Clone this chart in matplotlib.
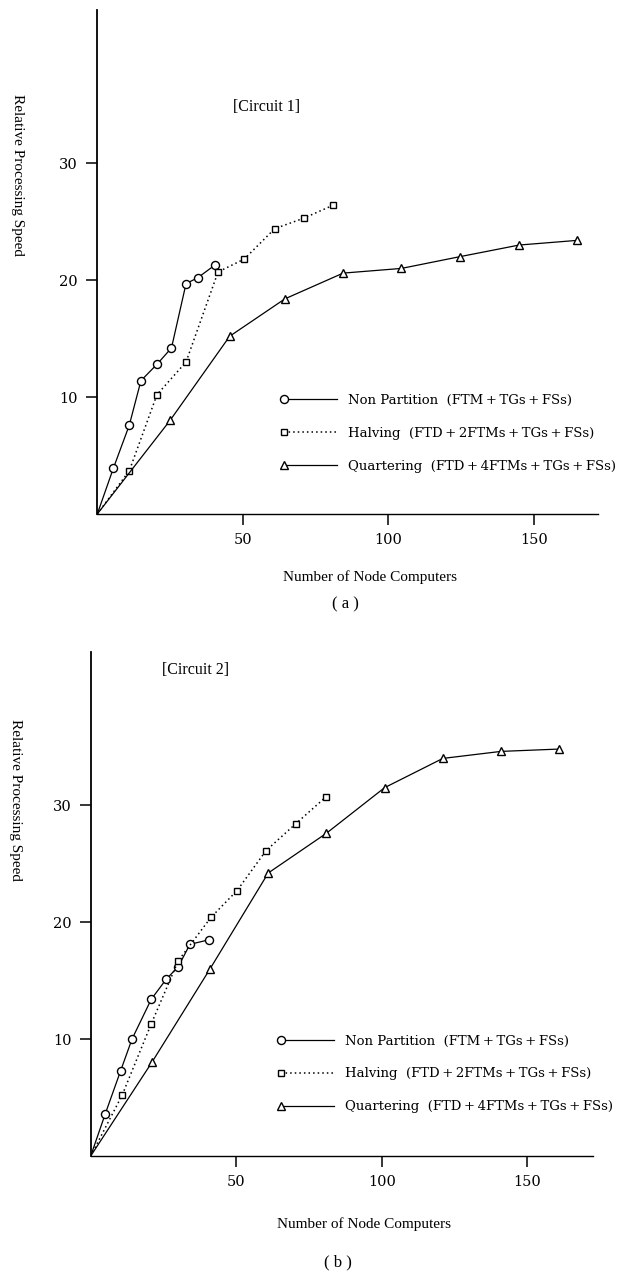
import matplotlib
matplotlib.use('Agg')
import matplotlib.pyplot as plt

# [Circuit 1]
c1_non_x = [5.5, 11, 15, 20.5, 25.5, 30.5, 34.5, 40.5]
c1_non_y = [3.9, 7.6, 11.4, 12.8, 14.2, 19.7, 20.2, 21.3]
c1_half_x = [11, 20.5, 30.5, 41.5, 50.5, 61, 71, 81]
c1_half_y = [3.7, 10.2, 13.0, 20.7, 21.8, 24.4, 25.3, 26.4]
c1_quar_x = [25, 45.5, 64.5, 84.5, 104.5, 124.5, 145, 165]
c1_quar_y = [8.0, 15.2, 18.4, 20.6, 21.0, 22.0, 23.0, 23.4]

# [Circuit 2]
c2_non_x = [5, 10.3, 14.2, 20.8, 25.9, 30.1, 34.1, 40.8]
c2_non_y = [3.6, 7.3, 10.0, 13.4, 15.1, 16.2, 18.1, 18.5]
c2_half_x = [10.8, 20.8, 30.1, 41.3, 50.3, 60.2, 70.4, 80.8]
c2_half_y = [5.2, 11.3, 16.7, 20.4, 22.7, 26.1, 28.4, 30.7]
c2_quar_x = [21, 41, 61, 81, 101, 121, 141, 161]
c2_quar_y = [8.0, 16.0, 24.2, 27.6, 31.5, 34.0, 34.6, 34.8]

p = '\u2009+\u2009'
labels = ['Non Partition  (FTM' + p + 'TGs' + p + 'FSs)',
          'Halving  (FTD' + p + '2FTMs' + p + 'TGs' + p + 'FSs)',
          'Quartering  (FTD' + p + '4FTMs' + p + 'TGs' + p + 'FSs)']
xticks = [50, 100, 150]
yticks = [10, 20, 30]

serif = ['DejaVu Serif']
times = ['Liberation Serif']

W, H = 618, 1280
fig = plt.figure(figsize=(W / 100, H / 100), dpi=100)
ax1 = fig.add_axes([97.3 / W, 1 - 514 / H, (598 - 97.3) / W, 504 / H])
ax2 = fig.add_axes([90.7 / W, 1 - 1156 / H, (593 - 90.7) / W, 504 / H])


def draw(ax, data, xmax, title, tpos, legpos):
    styles = [('o', '-', 0.9), ('s', (0, (1, 2.0)), 1.1), ('^', '-', 0.9)]
    for (xs, ys), (m, ls, lw), lab in zip(data, styles, labels):
        ax.plot([0] + xs, [0] + ys, color='black', lw=lw, ls=ls,
                marker=m, ms=5.8 if m != 's' else 5.0, mfc='white', mec='black',
                mew=1.0, markevery=list(range(1, len(xs) + 1)), label=lab)
    ax.set_xlim(0, xmax)
    ax.set_ylim(0, 43.1)
    ax.set_xticks(xticks)
    ax.set_yticks(yticks)
    for s in ['top', 'right']:
        ax.spines[s].set_visible(False)
    ax.spines['left'].set_linewidth(1.3)
    ax.spines['bottom'].set_linewidth(1.0)
    ax.tick_params(direction='out', length=8, width=1.1, pad=6, labelsize=10.5)
    for t in ax.get_xticklabels() + ax.get_yticklabels():
        t.set_family(serif)
    ax.text(tpos[0], tpos[1], title, family=times, fontsize=11.5, va='center')
    leg = ax.legend(loc='center left', bbox_to_anchor=legpos, frameon=False,
                    numpoints=2, handlelength=4.6, handletextpad=0.55,
                    labelspacing=1.5, borderpad=0, borderaxespad=0,
                    prop={'family': serif, 'size': 9.5})
    for line in leg.get_lines():
        line.set_markevery([0])


draw(ax1, [(c1_non_x, c1_non_y), (c1_half_x, c1_half_y), (c1_quar_x, c1_quar_y)],
     172.1, '[Circuit 1]', (46.5, 34.8), (0.365, 0.16))
draw(ax2, [(c2_non_x, c2_non_y), (c2_half_x, c2_half_y), (c2_quar_x, c2_quar_y)],
     172.6, '[Circuit 2]', (24.5, 41.6), (0.371, 0.163))

fig.text(370 / W, 1 - 577 / H, 'Number of Node Computers', family=times,
         fontsize=11, ha='center', va='center')
fig.text(345 / W, 1 - 604 / H, '( a )', family=times, fontsize=12,
         ha='center', va='center')
fig.text(17 / W, 1 - 175 / H, 'Relative Processing Speed', family=times,
         fontsize=11, rotation=-90, ha='center', va='center')

fig.text(364 / W, 1 - 1224 / H, 'Number of Node Computers', family=times,
         fontsize=11, ha='center', va='center')
fig.text(338 / W, 1 - 1262 / H, '( b )', family=times, fontsize=12,
         ha='center', va='center')
fig.text(15 / W, 1 - 800 / H, 'Relative Processing Speed', family=times,
         fontsize=11, rotation=-90, ha='center', va='center')

fig.savefig('out.png', dpi=100)
